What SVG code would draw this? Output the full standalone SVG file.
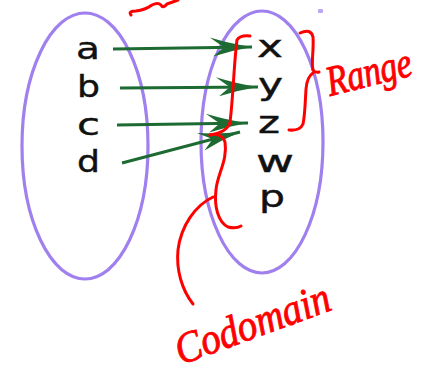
<svg xmlns="http://www.w3.org/2000/svg" width="423" height="377" viewBox="0 0 423 377">
  <style>
    .set { fill: none; stroke: #a080ee; stroke-width: 3.2; }
    .el { font-family: "DejaVu Sans", "Liberation Sans", sans-serif; font-size: 30px; fill: #111; stroke: #111; stroke-width: 0.4; }
    .edge { stroke: #1d6b32; stroke-width: 3; fill: none; marker-end: url(#head); }
    .ink { fill: none; stroke: #ff0000; stroke-width: 3; stroke-linecap: round; stroke-linejoin: round; }
    .note { font-family: "Liberation Serif", "DejaVu Serif", serif; font-style: italic; fill: #ff0000; stroke: #ff0000; stroke-width: 0.8; }
  </style>
  <defs>
    <marker id="head" markerUnits="userSpaceOnUse" orient="auto" markerWidth="50" markerHeight="24" refX="0" refY="0" viewBox="-45 -12 50 24" overflow="visible">
      <path d="M0,0 Q-20,-3 -42,-10 Q-31,-2 -28,0 Q-31,2 -39,9 Q-20,3 0,0 Z" fill="#1d6b32"/>
    </marker>
  </defs>

  <rect width="423" height="377" fill="#ffffff"/>

  <!-- domain and codomain sets -->
  <g id="domain">
    <ellipse class="set" cx="85" cy="146" rx="63" ry="133"/>
    <text class="el" x="76" y="59" textLength="24" lengthAdjust="spacingAndGlyphs">a</text>
    <text class="el" x="77" y="97" textLength="23" lengthAdjust="spacingAndGlyphs">b</text>
    <text class="el" x="77" y="135" textLength="23" lengthAdjust="spacingAndGlyphs">c</text>
    <text class="el" x="77" y="172" textLength="23" lengthAdjust="spacingAndGlyphs">d</text>
  </g>
  <g id="codomain">
    <ellipse class="set" cx="262" cy="142" rx="61" ry="131"/>
    <text class="el" x="257" y="57" textLength="26" lengthAdjust="spacingAndGlyphs">x</text>
    <text class="el" x="258" y="95" textLength="25" lengthAdjust="spacingAndGlyphs">y</text>
    <text class="el" x="258" y="133" textLength="22" lengthAdjust="spacingAndGlyphs">z</text>
    <text class="el" x="256" y="172" textLength="38" lengthAdjust="spacingAndGlyphs">w</text>
    <text class="el" x="259" y="207" textLength="26" lengthAdjust="spacingAndGlyphs">p</text>
  </g>
  <rect x="318" y="9" width="5" height="4" rx="1" fill="#a080ee" opacity="0.7"/>

  <!-- mapping arrows -->
  <g id="connectors">
    <path class="edge" d="M113,49 L252,47"/>
    <path class="edge" d="M120,88 L258,87"/>
    <path class="edge" d="M117,125 L248,123"/>
    <path class="edge" d="M122,163 L240,132"/>
  </g>

  <!-- hand-drawn annotations -->
  <g id="annotations">
    <path class="ink" d="M131,15 Q128,11 136,11 Q145,10 152,5 Q158,2 161,5 Q163,9 167,4 L178,0"/>
    <!-- codomain brace -->
    <path class="ink" d="M250,36 Q240,35 237,40 C234,62 233,100 230,122 Q228,132 210,135"/>
    <path class="ink" d="M210,135 Q221,132 225,142 C228,160 217,175 216,190 C214,206 218,222 228,227 Q236,229 241,226"/>
    <path class="ink" d="M213,197 C196,205 181,225 178,250 C176,270 182,290 193,304"/>
    <!-- range brace -->
    <path class="ink" d="M300,33 Q311,28 313,37 C314,50 311,62 313,70 Q315,73 319,72"/>
    <path class="ink" d="M313,73 Q307,77 306,89 C305,105 305,115 303,124 Q300,131 289,130"/>
    <text class="note" font-size="34" transform="translate(330,96) rotate(-14) scale(1,1.25)">Range</text>
    <text class="note" font-size="39" transform="translate(181,365) rotate(-20) scale(1,1.12)">Codomain</text>
  </g>
</svg>
